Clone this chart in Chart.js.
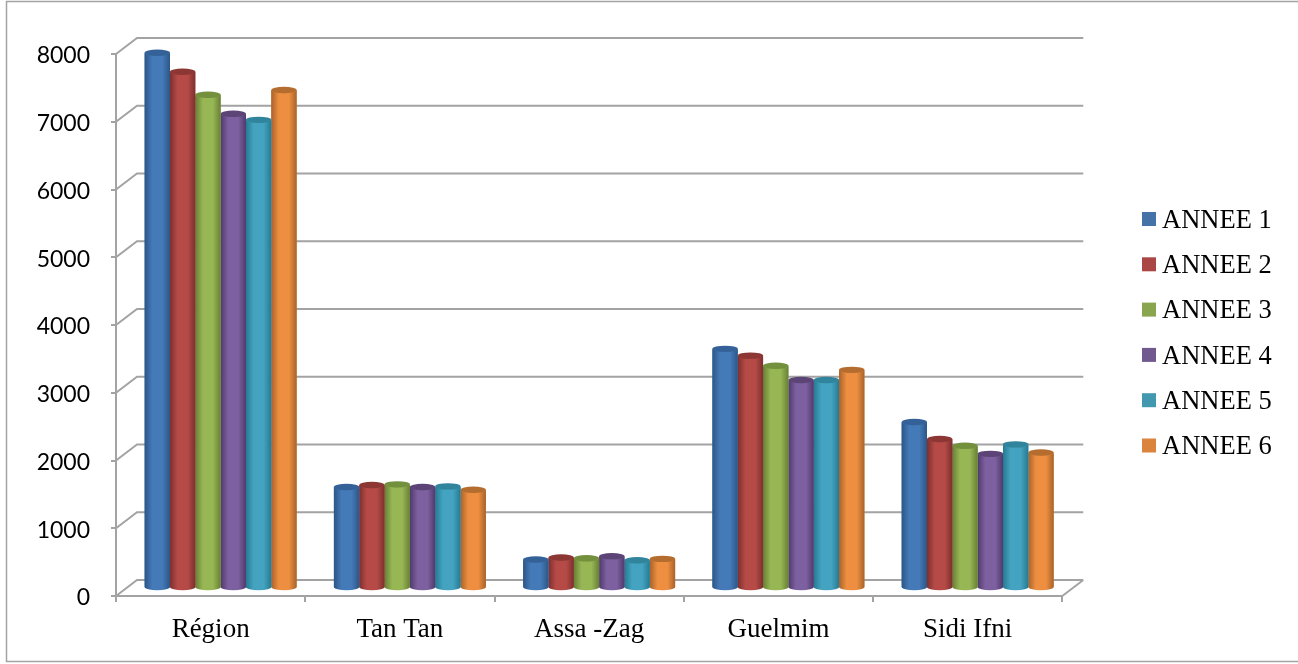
<!DOCTYPE html>
<html>
<head>
<meta charset="utf-8">
<style>
  html, body { margin: 0; padding: 0; background: #fff; }
  canvas { display: block; }
</style>
<script src="https://cdn.jsdelivr.net/npm/chart.js@4/dist/chart.umd.min.js"></script>
</head>
<body>
<canvas id="chart" width="1298" height="664"></canvas>
<script>
const categories = ['Région', 'Tan Tan', 'Assa -Zag', 'Guelmim', 'Sidi Ifni'];
const annee1 = [7900, 1490, 420, 3530, 2450];
const annee2 = [7620, 1520, 450, 3430, 2200];
const annee3 = [7280, 1530, 440, 3280, 2100];
const annee4 = [7000, 1490, 470, 3070, 1980];
const annee5 = [6910, 1500, 410, 3070, 2120];
const annee6 = [7350, 1450, 430, 3220, 2000];
const yTicks = [0, 1000, 2000, 3000, 4000, 5000, 6000, 7000, 8000];

// couleur, bord sombre, centre clair, chapeau
const styles = [
  ['#4572A7', '#2c5687', '#447ab8', '#346298'],
  ['#AA4643', '#7d302e', '#b54a47', '#8c3734'],
  ['#89A54E', '#678034', '#97b654', '#73903d'],
  ['#71588F', '#4f3a6c', '#7d60a0', '#5c4576'],
  ['#4198AF', '#267a92', '#43a3c0', '#30849c'],
  ['#DB843D', '#a8632a', '#ee8e40', '#b56d2f'],
];

const gris = '#a3a3a3';
const profondeur = { x: 21, y: -16 };   // fond du graphique par rapport a l'avant
const milieu = { x: 10, y: -8 };        // plan ou sont poses les cylindres
const rayonChapeau = 3.2;

const series = [annee1, annee2, annee3, annee4, annee5, annee6];

// --- Cadre, murs et quadrillage en fausse 3D ---
const decor = {
  id: 'decor',
  beforeDatasetsDraw(chart) {
    const { ctx, scales: { x, y } } = chart;
    ctx.save();
    ctx.strokeStyle = gris;
    ctx.lineWidth = 1.5;
    ctx.strokeRect(6.5, 1.5, 1300, 660);

    ctx.lineWidth = 2;
    ctx.beginPath();
    yTicks.forEach((t) => {
      const py = y.getPixelForValue(t);
      ctx.moveTo(x.left, py);
      ctx.lineTo(x.left + profondeur.x, py + profondeur.y);
      ctx.lineTo(x.right + profondeur.x, py + profondeur.y);
    });
    // sol : cote droit
    const sol = y.getPixelForValue(0);
    ctx.moveTo(x.right, sol);
    ctx.lineTo(x.right + profondeur.x, sol + profondeur.y);
    ctx.stroke();
    ctx.restore();

    // les cylindres sont poses au milieu de la profondeur
    ctx.save();
    ctx.translate(milieu.x, milieu.y);
  },
  afterDatasetDraw(chart, args) {
    const { ctx } = chart;
    const st = styles[args.index];
    args.meta.data.forEach((bar) => {
      const g = bar.width / 2;
      const grad = ctx.createLinearGradient(bar.x - g, 0, bar.x + g, 0);
      grad.addColorStop(0, st[1]);
      grad.addColorStop(0.3, st[2]);
      grad.addColorStop(0.7, st[2]);
      grad.addColorStop(1, st[1]);
      ctx.fillStyle = grad;
      ctx.beginPath();
      ctx.ellipse(bar.x, bar.y, g, rayonChapeau, 0, Math.PI, 0, true);
      ctx.lineTo(bar.x + g, bar.base);
      ctx.ellipse(bar.x, bar.base, g, rayonChapeau, 0, 0, Math.PI);
      ctx.closePath();
      ctx.fill();
      ctx.fillStyle = st[3];
      ctx.beginPath();
      ctx.ellipse(bar.x, bar.y, g, rayonChapeau, 0, 0, Math.PI * 2);
      ctx.fill();
    });
  },
  afterDatasetsDraw(chart) {
    chart.ctx.restore();
  },
  afterLayout(chart) {
    // legende calee a droite, loin de la zone de trace
    const l = chart.legend;
    l.left = 1129;
    l.right = 1298;
    l.width = l.right - l.left;
    l.top -= 25;
    l.bottom -= 25;
  },
  afterDraw(chart) {
    // carres de la legende (le texte est plus pres du carre que ce que fait Chart.js)
    const { ctx } = chart;
    chart.legend.legendItems.forEach((item, i) => {
      ctx.fillStyle = item.fillStyle;
      ctx.fillRect(1142, 212 + i * 45.3, 14, 14);
    });
  },
};

new Chart(document.getElementById('chart'), {
  type: 'bar',
  data: {
    labels: categories,
    datasets: series.map((data, i) => ({
      label: 'ANNEE ' + (i + 1),
      data,
      backgroundColor: styles[i][0],
      borderWidth: 0,
      clip: false,
    })),
  },
  options: {
    responsive: false,
    animation: false,
    categoryPercentage: 0.803,
    barPercentage: 1,
    layout: { padding: { left: 0, top: 54, right: 83, bottom: 0 } },
    plugins: {
      tooltip: { enabled: false },
      legend: {
        position: 'right',
        labels: {
          boxWidth: 1,
          boxHeight: 1,
          padding: 18.8,
          color: '#000',
          font: { family: '"Liberation Serif"', size: 26.5 },
        },
      },
    },
    scales: {
      x: {
        afterFit: (s) => { s.height = 68; },
        grid: { drawOnChartArea: false, color: gris, lineWidth: 2, tickLength: 6, offset: true },
        border: { color: gris, width: 2 },
        ticks: { color: '#000', padding: 12, font: { family: '"Liberation Serif"', size: 27 }, maxRotation: 0 },
      },
      y: {
        min: 0,
        max: 8000,
        afterFit: (s) => { s.width = 116; },
        grid: { drawOnChartArea: false, color: gris, lineWidth: 2, tickLength: 5 },
        border: { color: gris, width: 2 },
        ticks: {
          color: '#000',
          padding: 21,
          stepSize: 1000,
          labelOffset: 2,
          font: { family: 'Lato', size: 23 },
          callback: (v) => String(v),
        },
      },
    },
  },
  plugins: [decor],
});
</script>
</body>
</html>
